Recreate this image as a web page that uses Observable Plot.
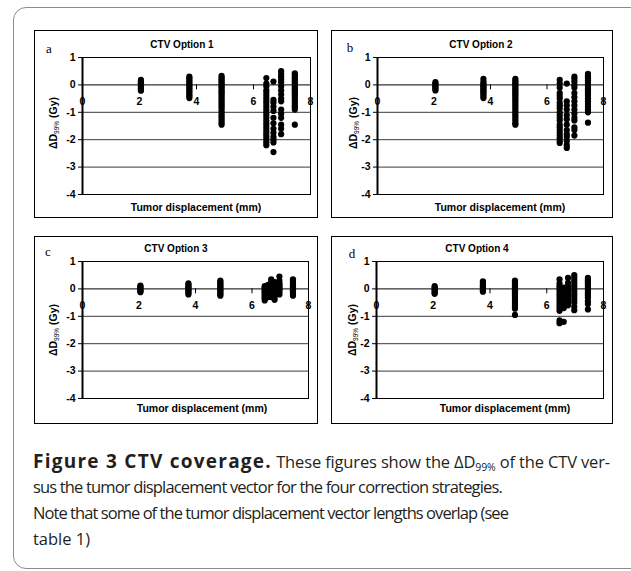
<!DOCTYPE html>
<html><head><meta charset="utf-8">
<script src="https://cdn.jsdelivr.net/npm/d3@7"></script>
<script src="https://cdn.jsdelivr.net/npm/@observablehq/plot@0.6"></script>
<style>
html,body{margin:0;padding:0;background:#fff;}
body{width:631px;height:571px;overflow:hidden;position:relative;font-family:"Liberation Sans",Arial,sans-serif;}
.frame{position:absolute;left:13px;top:7px;width:640px;height:562px;border:1px solid #8c8c8c;border-radius:13px;box-sizing:border-box;}
.panel{position:absolute;border:1px solid #000;box-sizing:border-box;background:#fff;}
.panel svg{display:block;}
.cap{position:absolute;left:33px;font-family:"Open Sans",sans-serif;font-size:16.5px;color:#231f20;white-space:nowrap;line-height:1;}
.cap span{display:inline-block;white-space:pre;}
.cap b{font-size:19px;font-weight:700;}
.cap sub{font-size:10.5px;vertical-align:-3px;line-height:0;}
</style></head><body>
<div class="frame"></div>
<div id="charts"></div>
<div class="cap" style="top:452px"><span id="b1"><b>Figure 3 CTV coverage.</b></span><span id="r1"> These figures show the ΔD<sub>99%</sub> of the CTV ver-</span></div>
<div class="cap" style="top:479px"><span id="l2">sus the tumor displacement vector for the four correction strategies.</span></div>
<div class="cap" style="top:505px"><span id="l3">Note that some of the tumor displacement vector lengths overlap (see</span></div>
<div class="cap" style="top:531px"><span id="l4">table 1)</span></div>
<script>
// ---- data (tumor displacement in mm, ΔD99% in Gy) ----
const xTicks = [0, 2, 4, 6, 8];
const yTicks = [1, 0, -1, -2, -3, -4];
const gridY = [-1, -2, -3];
const titles = ["CTV Option 1", "CTV Option 2", "CTV Option 3", "CTV Option 4"];
const letters = ["a", "b", "c", "d"];

const option1 = [
  [2.05, [0.18,0.14,0.1,0.06,0.02,-0.02,-0.06,-0.1,-0.14,-0.18,-0.21]],
  [3.75, [0.3,0.24,0.18,0.12,0.06,0.0,-0.06,-0.12,-0.18,-0.24,-0.3,-0.36,-0.42,-0.48]],
  [4.88, [0.33,0.27,0.21,0.15,0.09,0.03,-0.03,-0.09,-0.15,-0.21,-0.27,-0.33,-0.4,-0.47,-0.54,-0.61,-0.68,-0.75,-0.82,-0.9,-0.98,-1.06,-1.14,-1.22,-1.3,-1.38,-1.45]],
  [6.45, [0.25,0.05,-0.05,-0.2,-0.3,-0.4,-0.5,-0.6,-0.7,-0.8,-0.9,-1.0,-1.1,-1.2,-1.3,-1.4,-1.5,-1.6,-1.7,-1.8,-1.9,-2.0,-2.1,-2.2]],
  [6.7,  [0.12,-0.55,-0.65,-0.8,-0.95,-1.2,-1.4,-1.6,-1.75,-1.9,-2.0,-2.1,-2.45]],
  [6.97, [0.5,0.4,0.3,0.2,0.1,-0.05,-0.2,-0.35,-0.5,-0.6,-0.9,-1.05,-1.2,-1.45,-1.6,-1.8]],
  [7.45, [0.42,0.36,0.3,0.24,0.18,0.12,0.06,0.0,-0.06,-0.12,-0.18,-0.24,-0.3,-0.36,-0.42,-0.5,-0.58,-0.66,-0.74,-0.82,-0.9,-1.45]]
];
const option2 = [
  [2.05, [0.1,0.05,0.0,-0.05,-0.1,-0.15,-0.2]],
  [3.75, [0.22,0.12,0.05,0.0,-0.05,-0.1,-0.15,-0.2,-0.25,-0.3,-0.35,-0.42,-0.48]],
  [4.88, [0.22,0.16,0.1,0.04,-0.02,-0.08,-0.14,-0.2,-0.26,-0.32,-0.38,-0.45,-0.52,-0.6,-0.68,-0.76,-0.84,-0.92,-1.0,-1.08,-1.16,-1.24,-1.32,-1.4,-1.45]],
  [6.45, [0.18,0.05,-0.1,-0.3,-0.4,-0.5,-0.65,-0.75,-0.85,-1.0,-1.1,-1.2,-1.3,-1.45,-1.55,-1.65,-1.75,-1.85,-1.95,-2.05,-2.12]],
  [6.7,  [0.05,-0.6,-0.75,-0.9,-1.1,-1.25,-1.45,-1.65,-1.8,-1.9,-2.05,-2.2,-2.3]],
  [6.97, [0.3,0.22,0.12,0.0,-0.1,-0.3,-0.45,-0.6,-0.75,-0.9,-1.05,-1.2,-1.3,-1.55,-1.65,-1.85]],
  [7.45, [0.4,0.32,0.24,0.16,0.08,0.0,-0.08,-0.16,-0.24,-0.32,-0.4,-0.5,-0.6,-0.7,-0.8,-0.9,-1.0,-1.38]]
];
const option3 = [
  [2.05, [0.12,0.08,0.04,0.0,-0.04,-0.08,-0.12]],
  [3.75, [0.2,0.15,0.1,0.05,0.0,-0.05,-0.1,-0.15,-0.2]],
  [4.88, [0.3,0.25,0.2,0.15,0.1,0.05,0.0,-0.05,-0.1,-0.15,-0.2,-0.25]],
  [6.45, [0.1,0.05,0.0,-0.05,-0.1,-0.15,-0.2,-0.25,-0.3,-0.35,-0.42]],
  [6.57, [0.15,0.1,0.05,0.0,-0.05,-0.1,-0.2,-0.3]],
  [6.68, [0.35,0.25,0.2,0.15,0.1,0.05,0.0,-0.05,-0.1,-0.15,-0.2,-0.3]],
  [6.8,  [0.25,0.2,0.15,0.1,0.05,0.0,-0.05,-0.1,-0.2,-0.3,-0.4]],
  [6.97, [0.45,0.3,0.2,0.15,0.1,0.05,0.0,-0.05,-0.12,-0.2]],
  [7.45, [0.35,0.3,0.25,0.2,0.15,0.1,0.05,0.0,-0.05,-0.1,-0.15,-0.2,-0.25]]
];
const option4 = [
  [2.05, [0.1,0.05,0.0,-0.05,-0.1,-0.15,-0.18]],
  [3.75, [0.28,0.22,0.16,0.1,0.05,0.0,-0.05,-0.1]],
  [4.88, [0.3,0.24,0.18,0.12,0.06,0.0,-0.06,-0.12,-0.18,-0.24,-0.3,-0.36,-0.42,-0.5,-0.58,-0.66,-0.72,-0.95]],
  [6.45, [0.35,0.2,0.1,0.0,-0.1,-0.2,-0.3,-0.4,-0.5,-0.6,-0.7,-0.8,-1.15,-1.25]],
  [6.6,  [0.05,-0.1,-0.2,-0.35,-0.45,-0.6,-0.7,-1.2]],
  [6.75, [0.4,0.22,0.1,0.0,-0.1,-0.2,-0.3,-0.4,-0.5,-0.6]],
  [6.97, [0.5,0.4,0.3,0.2,0.1,0.0,-0.1,-0.2,-0.3,-0.4,-0.5,-0.65,-0.78]],
  [7.45, [0.4,0.32,0.24,0.16,0.08,0.0,-0.08,-0.16,-0.24,-0.32,-0.45,-0.55,-0.75]]
];
const options = [option1, option2, option3, option4];

// ---- layout ----
const panels = [
  {left:34, top:30, w:284, h:188, mL:47, mR:7, mT:26, mB:23, title:[147,17], letter:[14,22], xl:[161,180], yl:[18,92]},
  {left:331, top:30, w:282, h:188, mL:45, mR:9, mT:26, mB:23, title:[149,17], letter:[18,21], xl:[168,180], yl:[21,92]},
  {left:34, top:236, w:284, h:188, mL:47, mR:9, mT:24, mB:25, title:[141,15], letter:[13,19], xl:[167,175], yl:[18,93]},
  {left:331, top:236, w:282, h:188, mL:44, mR:9, mT:24, mB:25, title:[145,15], letter:[20,21], xl:[173,175], yl:[20,93]}
];

const host = document.getElementById("charts");
panels.forEach((p, i) => {
  const data = options[i].flatMap(([x, ys]) => ys.map(y => ({x, y})));
  const W = p.w - 2, H = p.h - 2;
  const svg = Plot.plot({
    width: W, height: H,
    marginLeft: p.mL, marginRight: p.mR, marginTop: p.mT, marginBottom: p.mB,
    style: {fontFamily: "'Liberation Sans', Arial, sans-serif", fontSize: "10.5px", fontWeight: "bold", background: "transparent", overflow: "visible", color: "#000"},
    x: {domain: [0, 8], axis: null},
    y: {domain: [-4, 1], ticks: yTicks, tickFormat: d => String(d), tickSize: 4, tickPadding: 3, label: null},
    marks: [
      Plot.ruleY(gridY, {stroke: "#3a3a3a", strokeWidth: 1}),
      Plot.ruleY([0], {stroke: "#000", strokeWidth: 1}),
      Plot.frame({stroke: "#000"}),
      Plot.ruleX([0], {stroke: "#000", strokeWidth: 2}),
      Plot.ruleX(xTicks.slice(1, 4), {y1: 0, y2: -0.18, stroke: "#000"}),
      Plot.text(xTicks, {x: d => d, y: 0, dy: 17, text: d => String(d), fontWeight: "bold", fontSize: 10.5, fill: "#000"}),
      Plot.dot(data, {x: "x", y: "y", r: 3.1, fill: "#000", stroke: "none"})
    ]
  });
  const div = document.createElement("div");
  div.className = "panel";
  Object.assign(div.style, {left: p.left + "px", top: p.top + "px", width: p.w + "px", height: p.h + "px"});
  div.appendChild(svg);
  host.appendChild(div);
  const s = d3.select(svg);
  s.append("text").attr("x", p.title[0]).attr("y", p.title[1]).attr("text-anchor", "middle")
    .attr("font-size", 10).attr("font-weight", "bold").text(titles[i]);
  s.append("text").attr("x", p.letter[0]).attr("y", p.letter[1]).attr("font-family", "'Liberation Serif', 'Times New Roman', serif")
    .attr("font-size", 13).attr("font-weight", "normal").text(letters[i]);
  s.append("text").attr("x", p.xl[0]).attr("y", p.xl[1]).attr("text-anchor", "middle")
    .attr("font-size", 10.5).attr("font-weight", "bold").text("Tumor displacement (mm)");
  const yl = s.append("text").attr("transform", `translate(${p.yl[0]},${p.yl[1]}) rotate(-90)`)
    .attr("text-anchor", "middle").attr("dy", "0.35em").attr("font-size", 10.5).attr("font-weight", "bold");
  yl.append("tspan").text("ΔD");
  yl.append("tspan").attr("font-size", 6.5).attr("font-weight", "normal").attr("dy", 2).text("99%");
  yl.append("tspan").attr("dy", -2).text(" (Gy)");
});

// fit caption segments to the reference widths (after fonts are ready)
const targets = {b1: 239, r1: 338, l2: 469, l3: 475, l4: 57};
function fit() {
  Object.entries(targets).forEach(([id, t]) => {
    const el = document.getElementById(id);
    el.style.letterSpacing = "0px";
    const n = el.textContent.length;
    const w = el.getBoundingClientRect().width;
    el.style.letterSpacing = ((t - w) / n).toFixed(3) + "px";
  });
}
fit();
if (document.fonts && document.fonts.ready) document.fonts.ready.then(fit);
</script>
</body></html>
